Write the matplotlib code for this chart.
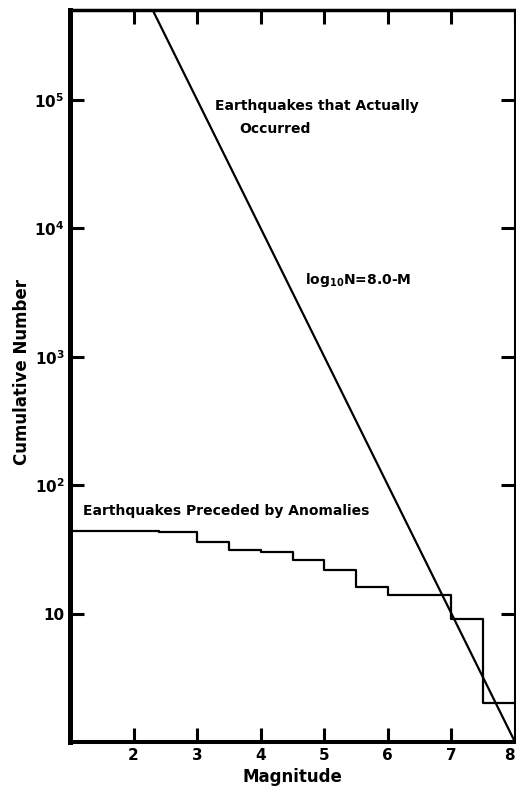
import numpy as np
import matplotlib
matplotlib.use("Agg")
import matplotlib.pyplot as plt

# --- data ---
# step curve: earthquakes preceded by anomalies (cumulative counts)
step_edges = [1.0, 2.4, 3.0, 3.5, 4.0, 4.5, 5.0, 5.5, 6.0, 7.0, 7.5, 8.0]
step_counts = [44, 43, 36, 31, 30, 26, 22, 16, 14, 9, 2]

# Gutenberg-Richter line: log10 N = a - b*M
gr_a = 8.0
gr_b = 1.0
gr_mag = np.linspace(1.0, 8.0, 50)

x_ticks = [2, 3, 4, 5, 6, 7, 8]
y_ticks = [10, 1e2, 1e3, 1e4, 1e5]
y_tick_labels = ["10", r"10$^{2}$", r"10$^{3}$", r"10$^{4}$", r"10$^{5}$"]

plt.rcParams["font.family"] = "DejaVu Sans"
plt.rcParams["font.weight"] = "bold"
plt.rcParams["mathtext.default"] = "bf"

fig = plt.figure(figsize=(5.16, 7.91), dpi=100)
ax = fig.add_axes([70 / 516, 49 / 791, 445 / 516, 732 / 791])

# line of earthquakes that actually occurred
ax.plot(gr_mag, 10 ** (gr_a - gr_b * gr_mag), color="black", lw=1.6)

# step curve (last level carried to M=8)
counts_ext = step_counts + [step_counts[-1]]
ax.step(step_edges, counts_ext, where="post", color="black", lw=1.6)

ax.set_yscale("log")
ax.set_xlim(1, 8)
ax.set_ylim(1, 10 ** 5.7)

ax.set_xticks(x_ticks)
ax.set_xticklabels([str(t) for t in x_ticks])
ax.set_yticks(y_ticks)
ax.set_yticklabels(y_tick_labels)
ax.yaxis.set_minor_locator(matplotlib.ticker.NullLocator())

ax.tick_params(axis="both", which="major", direction="in", length=10, width=2.2,
               labelsize=11, top=True, right=True, pad=4)
# the last x label sits at the clipped right edge; keep it inside the figure
ax.get_xticklabels()[-1].set_horizontalalignment("right")

ax.spines["left"].set_linewidth(3.6)
ax.spines["bottom"].set_linewidth(2.9)
ax.spines["top"].set_linewidth(2.5)
ax.spines["right"].set_linewidth(1.5)

ax.set_xlabel("Magnitude", fontsize=12, fontweight="bold")
ax.set_ylabel("Cumulative Number", fontsize=12, fontweight="bold")
ax.xaxis.set_label_coords(0.5, -0.036)
ax.yaxis.set_label_coords(-0.088, 0.505)

# annotations
ax.text(3.28, 10 ** 4.95, "Earthquakes that Actually", fontsize=10,
        fontweight="bold", va="center", ha="left")
ax.text(3.67, 10 ** 4.77, "Occurred", fontsize=10,
        fontweight="bold", va="center", ha="left")
ax.text(4.69, 10 ** 3.6, r"log$_{10}$N=8.0-M", fontsize=10,
        fontweight="bold", va="center", ha="left")
ax.text(1.2, 10 ** 1.8, "Earthquakes Preceded by Anomalies", fontsize=10,
        fontweight="bold", va="center", ha="left")

fig.savefig("out.png", dpi=100)
